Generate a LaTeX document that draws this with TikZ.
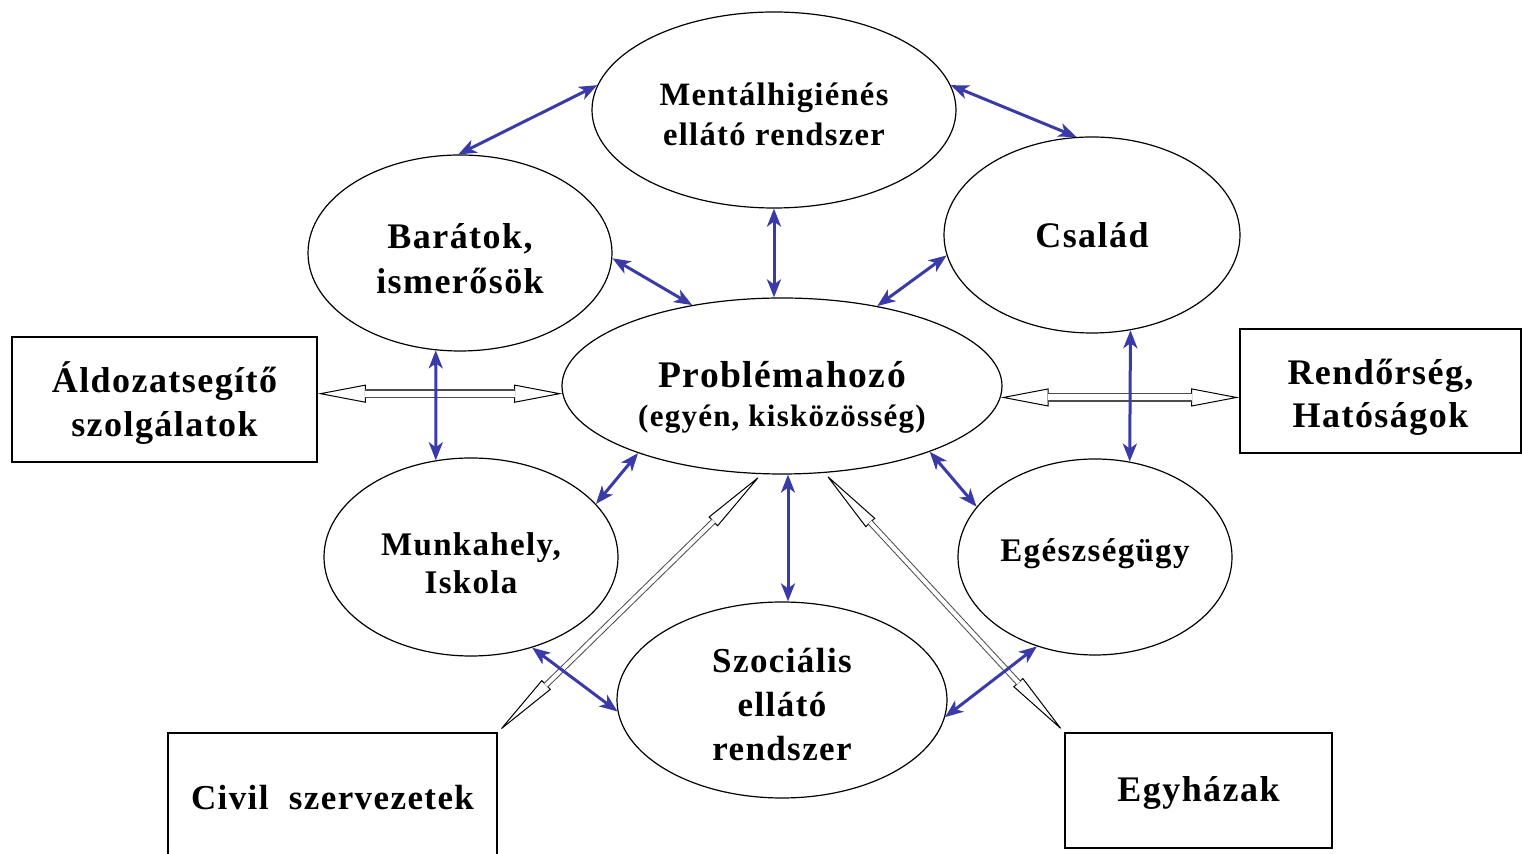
\documentclass[tikz,border=0pt]{standalone}
\usepackage{fontspec}
\newfontfamily\bodyfont[LetterSpace=4]{Liberation Serif}
\newcommand\fsz[2]{\bodyfont\bfseries\fontsize{#1}{#2}\selectfont}
\usetikzlibrary{shapes.geometric,arrows.meta,calc}
\definecolor{arrblue}{RGB}{58,58,168}
\tikzset{
  ell/.style={draw, line width=0.6pt, ellipse, inner sep=0pt},
  box/.style={draw, line width=0.8pt, rectangle, inner sep=0pt},
  lbl/.style={align=center, inner sep=0pt},
  bluearr/.style={draw=arrblue, line width=1.5pt,
    {Stealth[length=9pt,width=7pt,inset=2.5pt]}-{Stealth[length=9pt,width=7pt,inset=2.5pt]}},
  hollowhead/.style={draw=black, line width=0.5pt,
    {Triangle[open,fill=white,length=24pt,width=9pt]}-{Triangle[open,fill=white,length=24pt,width=9pt]}},
  hollowshaft/.style={draw=black!70, line width=0.6pt, double=white, double distance=3pt,
    shorten <=23.6pt, shorten >=23.6pt},
  diaghead/.style={draw=black, line width=0.5pt,
    {Triangle[open,fill=white,length=34pt,width=6.5pt]}-{Triangle[open,fill=white,length=34pt,width=6.5pt]}},
  diagshaft/.style={draw=black!70, line width=0.5pt, double=white, double distance=2pt,
    shorten <=33.6pt, shorten >=33.6pt},
}
\begin{document}
\begin{tikzpicture}[x=0.5pt,y=-0.5pt]
\useasboundingbox[fill=white] (0,0) rectangle (1522,854);
% ellipses
\node[ell, minimum width=182pt, minimum height=98pt,
  label={[lbl, name=ment-t, yshift=-2pt, font=\fsz{16.3}{20}]center:Mentálhigiénés\\ellátó rendszer}] (ment) at (774,110) {};
\node[ell, minimum width=152pt, minimum height=98pt,
  label={[lbl, name=bar-t, yshift=-3pt, font=\fsz{18}{22.5}]center:Barátok,\\ismerősök}] (bar) at (460,253) {};
\node[ell, minimum width=148pt, minimum height=98pt,
  label={[lbl, name=csal-t, font=\fsz{18}{22.5}]center:Család}] (csal) at (1092,235) {};
\node[ell, minimum width=220pt, minimum height=88pt,
  label={[lbl, name=prob-t, yshift=-5.5pt, font=\fsz{18.8}{19.5}]center:Problémahozó\\{\fontsize{15.5}{19.5}\selectfont(egyén, kisközösség)}}] (prob) at (782,386) {};
\node[ell, minimum width=147pt, minimum height=99pt,
  label={[lbl, name=munk-t, yshift=-3pt, font=\fsz{16.5}{19}]center:Munkahely,\\Iskola}] (munk) at (471,557) {};
\node[ell, minimum width=137pt, minimum height=98pt,
  label={[lbl, name=egesz-t, yshift=1.5pt, font=\fsz{16.5}{20}]center:Egészségügy}] (egesz) at (1095,557) {};
\node[ell, minimum width=165pt, minimum height=98pt,
  label={[lbl, name=szoc-t, yshift=-2.5pt, font=\fsz{17.5}{22}]center:Szociális\\ellátó\\rendszer}] (szoc) at (782,700) {};
% boxes
\node[box, minimum width=152.5pt, minimum height=62.5pt,
  label={[lbl, name=ald-t, yshift=-2pt, font=\fsz{18}{22}]center:Áldozatsegítő\\szolgálatok}] (ald) at (164.5,399.5) {};
\node[box, minimum width=140.5pt, minimum height=62pt,
  label={[lbl, name=rend-t, yshift=-3pt, font=\fsz{18}{21.5}]center:Rendőrség,\\Hatóságok}] (rend) at (1380.5,391) {};
\node[box, minimum width=164.5pt, minimum height=62.5pt,
  label={[lbl, name=civil-t, yshift=-1pt, font=\fsz{17.5}{22}]center:Civil\ \ szervezetek}] (civil) at (332.5,795.5) {};
\node[box, minimum width=133.5pt, minimum height=57.5pt,
  label={[lbl, name=egyh-t, yshift=-1pt, font=\fsz{18}{22}]center:Egyházak}] (egyh) at (1198.5,790.5) {};
% hollow double arrows
\coordinate (h1) at (prob.182 -| ald.east);
\coordinate (h2) at (prob.-3 -| rend.west);
\draw[hollowhead] (h1) -- (prob.182);
\draw[hollowshaft] (h1) -- (prob.182);
\draw[hollowhead] (prob.-3) -- (h2);
\draw[hollowshaft] (prob.-3) -- (h2);
\draw[diaghead] (civil.north east) -- (prob.257);
\draw[diagshaft] (civil.north east) -- (prob.257);
\draw[diaghead] (egyh.north west) -- (prob.-64);
\draw[diagshaft] (egyh.north west) -- (prob.-64);
% blue double arrows
\draw[bluearr] (bar.91) -- (ment.172);
\draw[bluearr] (ment.8) -- (csal.99.6);
\draw[bluearr] (ment.south) -- (ment.south |- prob.north);
\draw[bluearr] (bar.-2) -- (prob.138.6);
\draw[bluearr] (csal.188.8) -- (prob.40.2);
\draw[bluearr] (bar.256) -- (munk.110);
\draw[bluearr] (csal.-68.6) -- (egesz.70.2);
\draw[bluearr] (prob.205.6) -- (munk.23.7);
\draw[bluearr] (prob.-24.6) -- (egesz.157.4);
\draw[bluearr] ($(prob.south)+(6,0)$) -- ($(szoc.north)+(6,0)$);
\draw[bluearr] (munk.-56.6) -- (szoc.184.5);
\draw[bluearr] (egesz.237.2) -- (szoc.-6.2);
\end{tikzpicture}
\end{document}
